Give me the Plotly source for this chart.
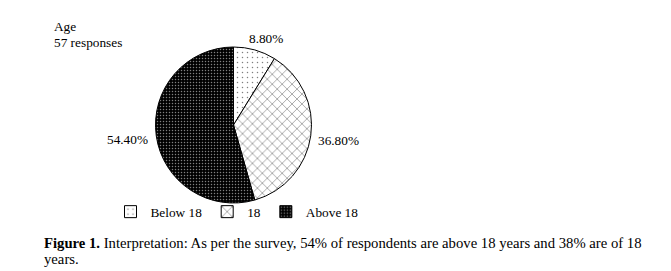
import plotly.graph_objects as go

categories = ["Below 18", "18", "Above 18"]
values = [8.8, 36.8, 54.4]
label_pos = [(266, 38), (339, 140), (127, 139)]  # label anchor positions in px

W, H = 671, 271
cx, cy, r = 233.5, 125, 78

fig = go.Figure()
fig.add_trace(go.Pie(
    labels=categories,
    values=values,
    sort=False,
    direction="clockwise",
    rotation=0,
    textinfo="none",
    hoverinfo="label+value",
    marker=dict(
        colors=["white", "white", "black"],
        line=dict(color="black", width=1),
        pattern=dict(
            shape=[".", "x", "."],
            bgcolor=["white", "white", "black"],
            fgcolor=["black", "black", "white"],
            size=[5, 7, 3],
            solidity=[0.07, 0.18, 0.2],
            fillmode="overlay",
        ),
    ),
    domain=dict(x=[(cx - r) / W, (cx + r) / W], y=[1 - (cy + r) / H, 1 - (cy - r) / H]),
))

SERIF = "Liberation Serif, Times New Roman, serif"
font = dict(family=SERIF, size=13.3, color="black")
cap_font = dict(family=SERIF, size=14.7, color="black")

annotations = []
for v, (px, py) in zip(values, label_pos):
    annotations.append(dict(
        x=px / W, y=1 - py / H, xref="paper", yref="paper",
        text=f"{v:.2f}%", showarrow=False, font=font,
        xanchor="center", yanchor="middle",
    ))

def text_line(txt, px, py, f):
    annotations.append(dict(
        x=px / W, y=1 - py / H, xref="paper", yref="paper",
        text=txt, showarrow=False, font=f,
        xanchor="left", yanchor="middle", align="left",
        xshift=-1,
    ))

text_line("Age", 53, 27, font)
text_line("57 responses", 53, 43, font)
text_line("<b>Figure 1.</b> Interpretation: As per the survey, 54% of respondents are above 18 years and 38% are of 18", 43, 243, cap_font)
text_line("years.", 43, 259, cap_font)

fig.update_layout(
    width=W, height=H,
    margin=dict(l=0, r=0, t=0, b=0),
    paper_bgcolor="white",
    plot_bgcolor="white",
    font=font,
    showlegend=True,
    legend=dict(
        orientation="h",
        x=237 / W, y=1 - 212 / H, xanchor="center", yanchor="middle",
        font=font, itemwidth=30, tracegroupgap=0,
        bgcolor="rgba(0,0,0,0)",
    ),
    annotations=annotations,
)

fig.write_html("out.html")
